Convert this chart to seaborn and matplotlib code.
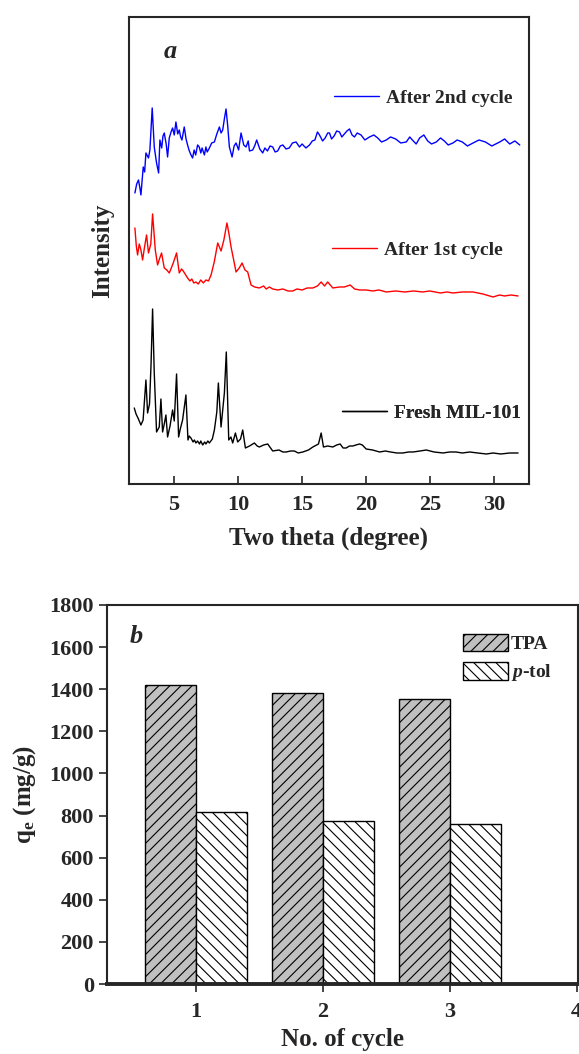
import numpy as np
import pandas as pd
import seaborn as sns
import matplotlib
matplotlib.use("Agg")
import matplotlib.pyplot as plt

# XRD patterns (two theta in degree, intensity in arbitrary units)
fresh_theta = [1.91, 2.05, 2.2, 2.43, 2.6, 2.82, 2.95, 3.1, 3.22, 3.34, 3.47, 3.65, 3.86, 3.99, 4.12,
               4.25, 4.38, 4.51, 4.7, 4.9, 5.03, 5.21, 5.37, 5.5, 5.68, 5.94, 6.1, 6.2, 6.33, 6.5,
               6.6, 6.72, 6.85, 7.0, 7.1, 7.25, 7.4, 7.5, 7.65, 7.77, 8.0, 8.16, 8.35, 8.47, 8.68,
               8.94, 9.09, 9.28, 9.45, 9.59, 9.8, 9.98, 10.2, 10.37, 10.58, 10.9, 11.28, 11.5, 11.67,
               12.0, 12.32, 12.71, 13.2, 13.5, 13.76, 14.1, 14.4, 14.7, 15.06, 15.5, 15.84, 16.28,
               16.49, 16.67, 17.0, 17.4, 17.7, 17.97, 18.2, 18.44, 18.7, 18.96, 19.2, 19.48, 19.7,
               20.0, 20.5, 21.05, 21.5, 21.9, 22.4, 22.87, 23.3, 23.65, 24.2, 24.69, 25.3, 26.0,
               26.5, 27.0, 27.5, 28.08, 28.7, 29.38, 29.9, 30.5, 31.2, 31.85]
fresh_int = [76, 70, 66, 59, 64, 104, 71, 80, 120, 175, 111, 52, 57, 85, 52,
             60, 69, 47, 58, 74, 63, 110, 47, 55, 64, 89, 44, 48, 46, 42,
             44, 41, 43, 40, 43, 39, 42, 40, 43, 41, 45, 54, 72, 101, 57,
             91, 132, 44, 47, 41, 51, 42, 45, 54, 36, 38, 41, 38, 37,
             39, 40, 33, 34, 32, 32, 33, 33, 31, 32, 34, 37, 40,
             51, 37, 38, 37, 39, 40, 36, 36, 38, 38, 39, 40, 39,
             35, 34, 32, 33, 32, 31, 31, 32, 32, 33, 34, 32, 31,
             32, 32, 31, 32, 31, 30, 31, 30, 31, 31]

first_theta = [1.96, 2.07, 2.17, 2.3, 2.43, 2.56, 2.7, 2.87, 3.02, 3.2, 3.34, 3.55, 3.73, 3.9, 4.04,
               4.25, 4.45, 4.64, 4.8, 4.95, 5.21, 5.42, 5.6, 5.73, 6.07, 6.25, 6.4, 6.55, 6.72, 6.9,
               7.1, 7.3, 7.5, 7.7, 7.9, 8.15, 8.42, 8.68, 8.9, 9.14, 9.3, 9.46, 9.65, 9.85, 10.1,
               10.32, 10.55, 10.76, 11.02, 11.3, 11.67, 12.0, 12.2, 12.45, 12.71, 13.1, 13.5, 13.9,
               14.27, 14.6, 15.0, 15.4, 15.84, 16.2, 16.49, 16.75, 17.0, 17.4, 17.92, 18.3, 18.75,
               19.1, 19.48, 20.0, 20.5, 21.0, 21.57, 22.3, 23.0, 23.7, 24.4, 24.95, 25.8, 26.3,
               26.77, 27.5, 28.34, 29.1, 29.9, 30.4, 30.8, 31.3, 31.85]
first_int = [256, 238, 229, 240, 234, 224, 236, 249, 231, 240, 270, 234, 219, 226, 231,
             216, 214, 211, 216, 221, 231, 211, 215, 213, 206, 203, 205, 201, 202, 200,
             204, 201, 204, 203, 209, 222, 241, 233, 244, 261, 250, 237, 225, 212, 216,
             221, 214, 212, 199, 197, 196, 198, 195, 197, 195, 194, 195, 193,
             193, 195, 194, 196, 196, 198, 202, 198, 202, 196, 197, 197, 199,
             195, 194, 194, 193, 194, 192, 193, 192, 193, 192, 193, 191, 192,
             191, 192, 192, 190, 187, 189, 188, 189, 188]

second_theta = [1.96, 2.1, 2.24, 2.35, 2.43, 2.61, 2.72, 2.82, 3.02, 3.13, 3.31, 3.47, 3.65, 3.81,
                3.91, 4.05, 4.15, 4.25, 4.4, 4.51, 4.64, 4.78, 4.9, 5.03, 5.16, 5.3, 5.42, 5.53,
                5.63, 5.81, 5.95, 6.07, 6.18, 6.3, 6.46, 6.58, 6.7, 6.85, 6.98, 7.1, 7.2, 7.38,
                7.5, 7.6, 7.77, 7.95, 8.16, 8.35, 8.55, 8.68, 8.81, 8.95, 9.07, 9.2, 9.33, 9.54,
                9.7, 9.85, 10.05, 10.24, 10.45, 10.63, 10.8, 10.9, 11.15, 11.3, 11.46, 11.7, 11.93,
                12.1, 12.3, 12.5, 12.71, 12.9, 13.1, 13.3, 13.5, 13.75, 14.0, 14.25, 14.53, 14.8,
                15.0, 15.3, 15.58, 15.8, 16.0, 16.2, 16.36, 16.6, 16.8, 17.0, 17.14, 17.3, 17.5,
                17.7, 17.92, 18.1, 18.3, 18.5, 18.7, 18.9, 19.09, 19.3, 19.6, 19.9, 20.26, 20.6,
                20.9, 21.2, 21.57, 21.9, 22.3, 22.7, 23.13, 23.4, 23.6, 23.9, 24.17, 24.5, 24.8,
                25.1, 25.47, 25.8, 26.1, 26.4, 26.77, 27.1, 27.5, 27.9, 28.34, 28.8, 29.3, 29.8,
                30.42, 30.8, 31.2, 31.6, 31.98]
second_int = [291, 300, 304, 296, 289, 317, 312, 331, 326, 334, 376, 337, 321, 311,
              344, 336, 348, 351, 340, 327, 346, 352, 356, 349, 362, 350, 354, 347,
              344, 357, 345, 339, 334, 330, 326, 334, 329, 339, 337, 331, 336, 329,
              337, 332, 336, 341, 342, 350, 357, 351, 354, 366, 375, 358, 337, 327,
              338, 341, 334, 351, 339, 337, 343, 333, 334, 338, 344, 335, 331,
              336, 333, 338, 337, 332, 333, 338, 339, 335, 336, 341, 342, 337,
              340, 336, 339, 343, 344, 352, 349, 343, 346, 351, 351, 345, 348,
              353, 352, 347, 350, 353, 355, 349, 347, 351, 349, 344, 347, 349,
              346, 342, 344, 347, 345, 341, 342, 347, 344, 340, 346, 349, 343,
              340, 342, 346, 343, 339, 341, 344, 342, 338, 341, 344, 342, 338,
              342, 345, 340, 343, 339]

# adsorption capacity over reuse cycles (panel b)
cycles = [1, 2, 3]
qe_tpa = [1420, 1380, 1355]
qe_ptol = [815, 773, 760]

sns.set_style("ticks")
plt.rcParams["font.family"] = ["Liberation Serif", "DejaVu Serif"]
plt.rcParams["font.weight"] = "bold"
plt.rcParams["axes.labelweight"] = "bold"
plt.rcParams["mathtext.fontset"] = "custom"
plt.rcParams["mathtext.rm"] = "Liberation Serif:bold"
plt.rcParams["mathtext.it"] = "Liberation Serif:bold:italic"
plt.rcParams["hatch.linewidth"] = 0.8

fig = plt.figure(figsize=(5.79, 10.54), dpi=100)
ax1 = fig.add_axes([0.2228, 0.5408, 0.6908, 0.4431])
ax2 = fig.add_axes([0.1848, 0.0664, 0.8135, 0.3596])

# ---- panel a ----
curves = [(second_theta, second_int, "#0000ff", "After 2nd cycle", (0.5125, 0.8266)),
          (first_theta, first_int, "#ff0000", "After 1st cycle", (0.5075, 0.501)),
          (fresh_theta, fresh_int, "black", "Fresh MIL-101", (0.5325, 0.152))]
for th, inten, col, lab, pos in curves:
    sns.lineplot(x=th, y=inten, color=col, linewidth=1.0, estimator=None, ax=ax1)
    line = ax1.lines[-1]
    leg = ax1.legend([line], [lab], loc="center left", bbox_to_anchor=pos, frameon=False,
                     borderpad=0, borderaxespad=0, handlelength=2.3, handletextpad=0.35,
                     prop={"weight": "bold", "size": 14})
    ax1.add_artist(leg)

ax1.set_xlim(1.5, 32.7)
ax1.set_ylim(0, 467)
ax1.set_xticks([5, 10, 15, 20, 25, 30])
ax1.set_yticks([])
ax1.tick_params(axis="x", direction="in", length=6, width=1.2, labelsize=16, pad=8)
for s in ax1.spines.values():
    s.set_linewidth(1.5)
    s.set_visible(True)
ax1.set_xlabel("Two theta (degree)", fontsize=18, labelpad=8)
ax1.set_ylabel("Intensity", fontsize=18, labelpad=11)
ax1.text(0.1025, 0.927, "a", transform=ax1.transAxes, fontsize=19, style="italic",
         weight="bold", ha="center", va="center")

# ---- panel b ----
df = pd.DataFrame({"cycle": cycles * 2, "qe": qe_tpa + qe_ptol,
                   "adsorbate": ["TPA"] * 3 + ["p-tol"] * 3})
sns.barplot(data=df, x="cycle", y="qe", hue="adsorbate", native_scale=True, width=0.805,
            palette=["#c0c0c0", "white"], edgecolor="black", linewidth=1.0, saturation=1,
            legend=False, ax=ax2)
for cont, hatch in zip(ax2.containers, ["///", "\\\\\\"]):
    for bar in cont:
        bar.set_hatch(hatch)
        bar.set_edgecolor("black")
ax2.legend([ax2.containers[0], ax2.containers[1]], ["TPA", "$p$-tol"], loc="upper left",
           bbox_to_anchor=(0.756, 0.9235), frameon=False, borderpad=0, borderaxespad=0,
           handlelength=2.3, handleheight=1.0, labelspacing=0.45, handletextpad=0.15,
           prop={"weight": "bold", "size": 14})

ax2.set_xlim(0.3, 4.01)
ax2.set_ylim(0, 1800)
ax2.set_xticks([1, 2, 3, 4])
ax2.set_xticklabels(["1", "2", "3", "4"])
ax2.set_yticks(range(0, 1801, 200))
ax2.tick_params(axis="both", direction="out", length=6, width=1.2, labelsize=16)
ax2.tick_params(axis="x", pad=7)
for s in ax2.spines.values():
    s.set_linewidth(1.5)
    s.set_visible(True)
ax2.spines["bottom"].set_linewidth(2.8)
ax2.set_xlabel("No. of cycle", fontsize=18, labelpad=4)
ax2.set_ylabel("q$_\\mathregular{e}$ (mg/g)", fontsize=18, labelpad=8)
ax2.text(0.0616, 0.9156, "b", transform=ax2.transAxes, fontsize=19, style="italic",
         weight="bold", ha="center", va="center")

fig.savefig("out.png", dpi=100)
